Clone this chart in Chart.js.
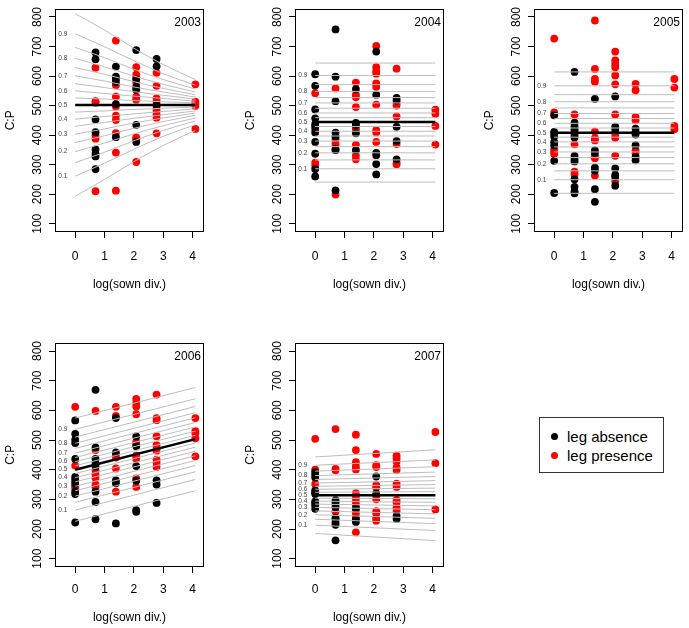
<!DOCTYPE html>
<html>
<head>
<meta charset="utf-8">
<script src="https://cdn.jsdelivr.net/npm/chart.js@4.4.1/dist/chart.umd.min.js"></script>
<style>
  body { margin: 0; width: 689px; height: 628px; overflow: hidden; position: relative; background: #fff;
         font-family: "Liberation Sans", Arial, sans-serif; }
  canvas { position: absolute; }
  #legend { position: absolute; left: 539px; top: 417px; width: 125px; height: 56px; box-sizing: border-box;
            border: 1px solid #333; padding-top: 9px; font-size: 15px; color: #000; }
  #legend .item { height: 19px; line-height: 19px; position: relative; padding-left: 27px; white-space: nowrap; }
  #legend .dot { position: absolute; left: 11px; top: 6px; width: 7px; height: 7px; border-radius: 50%; }
</style>
</head>
<body>
<canvas id="c2003" width="210" height="300" style="left:0px;top:0px"></canvas>
<canvas id="c2004" width="210" height="300" style="left:240px;top:0px"></canvas>
<canvas id="c2005" width="210" height="300" style="left:479px;top:0px"></canvas>
<canvas id="c2006" width="210" height="294" style="left:0px;top:334px"></canvas>
<canvas id="c2007" width="210" height="294" style="left:240px;top:334px"></canvas>
<div id="legend">
  <div class="item"><span class="dot" style="background:#000"></span>leg absence</div>
  <div class="item"><span class="dot" style="background:#ff0000"></span>leg presence</div>
</div>
<script>
// sown diversity levels, plotted on a log scale
const sownDiv = [1, 2, 4, 8, 16, 60];
const logDiv = sownDiv.map(d => Math.log(d));
const xTicks = [0, 1, 2, 3, 4];
const yTicks = [100, 200, 300, 400, 500, 600, 700, 800];
const qLabels = ['0.1', '0.2', '0.3', '0.4', '0.5', '0.6', '0.7', '0.8', '0.9'];
// fan lines are the quantiles 0.05, 0.10, ... 0.95

// C:P values per sown diversity level (1, 2, 4, 8, 16, 60)
const absent2003 = [
  [],
  [680, 657, 453, 410, 352, 337, 328, 285],
  [632, 598, 591, 580, 505, 393],
  [688, 589, 563, 554, 435, 377],
  [658, 633, 502],
  []
];
const present2003 = [
  [],
  [628, 515, 510, 398, 388, 210],
  [720, 569, 530, 497, 466, 451, 407, 341, 212],
  [630, 605, 596, 578, 530, 520, 392, 386, 309],
  [611, 567, 524, 514, 495, 484, 471, 459, 406],
  [572, 513, 506, 499, 421]
];
const absent2004 = [
  [606, 567, 487, 457, 437, 428, 409, 377, 337, 285, 260],
  [758, 598, 515, 408, 395, 353, 349, 213],
  [556, 441, 433, 406, 349],
  [683, 537, 340, 332, 302, 267],
  [526, 517, 428, 380, 318],
  []
];
const present2004 = [
  [542, 420, 307, 297],
  [558, 386, 373, 364, 199],
  [578, 537, 528, 495, 422, 414, 367, 331, 318],
  [702, 630, 616, 608, 575, 564, 503, 417, 409, 377],
  [625, 509, 500, 463, 370, 306, 301],
  [486, 472, 431, 368]
];
const absent2005 = [
  [467, 411, 405, 395, 376, 365, 313, 204],
  [614, 442, 430, 419, 398, 392, 330, 319, 311, 251, 225, 209, 203],
  [523, 348, 340, 290, 279, 217, 174],
  [531, 429, 418, 287, 265, 258, 229],
  [422, 411, 402, 366, 326, 315],
  []
];
const present2005 = [
  [727, 477, 352, 344, 336],
  [470, 415, 406, 369, 276, 267],
  [788, 624, 590, 581, 412, 390, 382, 330, 322, 263],
  [683, 653, 641, 630, 602, 572, 470, 402, 391, 330, 244],
  [573, 552, 461, 450, 349, 339],
  [590, 561, 431, 420]
];
const absent2006 = [
  [566, 521, 501, 490, 436, 376, 367, 352, 326, 318, 222],
  [669, 475, 436, 420, 410, 326, 291, 233],
  [574, 458, 364, 354, 219],
  [512, 479, 412, 363, 264, 258],
  [364, 350, 288],
  []
];
const present2006 = [
  [612, 414, 360, 344, 337],
  [598, 466, 398, 384, 372, 350, 341],
  [612, 581, 450, 441, 404, 326],
  [639, 625, 613, 587, 494, 486, 447, 437, 371, 342],
  [653, 574, 567, 513, 483, 473, 464, 434, 423, 409],
  [574, 530, 523, 506, 445]
];
const absent2007 = [
  [392, 384, 374, 330, 324, 318, 293, 287, 279, 268],
  [297, 290, 282, 273, 238, 233, 222, 214, 162],
  [270, 233, 224],
  [377, 320],
  [244, 234],
  []
];
const present2007 = [
  [504, 400, 352],
  [537, 403, 398, 259],
  [518, 466, 425, 411, 401, 321, 312, 301, 288, 277, 263, 252, 239, 189],
  [453, 415, 409, 348, 340, 312, 300, 260, 252, 236, 228],
  [447, 438, 428, 408, 399, 353, 342, 298, 289, 272, 261],
  [527, 422, 266]
];

// quantile fan: one row per x position, 19 quantiles per row
const fanX2003 = [0, 1, 2, 3, logDiv[5]];
const fan2003 = [
  [193, 261, 307, 344, 375, 403, 430, 454, 478, 502, 526, 550, 574, 601, 629, 660, 697, 743, 811],
  [250, 305, 342, 373, 398, 421, 443, 463, 482, 502, 522, 541, 561, 583, 606, 631, 662, 699, 756],
  [310, 352, 381, 404, 423, 441, 457, 472, 487, 502, 517, 532, 547, 563, 581, 600, 623, 652, 694],
  [365, 396, 416, 432, 446, 458, 469, 480, 491, 502, 513, 524, 535, 546, 558, 572, 588, 608, 639],
  [416, 435, 448, 458, 467, 475, 482, 489, 495, 502, 509, 515, 522, 529, 537, 546, 556, 569, 588]
];
const fanX2004 = [0, logDiv[5]];
const fan2004 = [
  [241, 286, 316, 340, 361, 380, 397, 413, 429, 444, 459, 475, 491, 509, 527, 548, 571, 602, 644],
  [241, 286, 316, 340, 361, 380, 397, 413, 429, 444, 459, 475, 491, 509, 527, 548, 571, 602, 644]
];
const fanX2005 = [0, logDiv[5]];
const fan2005 = [
  [203, 249, 279, 303, 324, 343, 360, 377, 393, 408, 424, 440, 456, 473, 492, 513, 537, 567, 614],
  [203, 249, 279, 303, 324, 343, 360, 377, 393, 408, 424, 440, 456, 473, 492, 513, 537, 567, 614]
];
const fanX2006 = [0, logDiv[5]];
const fan2006 = [
  [226, 264, 290, 311, 329, 344, 359, 373, 387, 400, 413, 427, 441, 456, 472, 489, 510, 536, 574],
  [329, 367, 393, 414, 431, 447, 462, 476, 490, 503, 516, 530, 544, 559, 575, 592, 613, 639, 677]
];
const fanX2007 = [0, logDiv[5]];
const fan2007 = [
  [185, 213, 233, 248, 261, 273, 284, 294, 304, 314, 324, 334, 344, 355, 367, 380, 395, 415, 443],
  [161, 195, 218, 236, 251, 265, 278, 290, 302, 314, 326, 338, 350, 363, 377, 392, 410, 433, 467]
];
// fitted mean line, at x = 0 and x = log(60)
const mean2003 = [502, 502];
const mean2004 = [444, 444];
const mean2005 = [408, 408];
const mean2006 = [400, 503];
const mean2007 = [314, 314];

const panels = [
  { id: 'c2003', year: '2003', absent: absent2003, present: present2003, fanX: fanX2003, fan: fan2003, mean: mean2003, row: 0 },
  { id: 'c2004', year: '2004', absent: absent2004, present: present2004, fanX: fanX2004, fan: fan2004, mean: mean2004, row: 0 },
  { id: 'c2005', year: '2005', absent: absent2005, present: present2005, fanX: fanX2005, fan: fan2005, mean: mean2005, row: 0 },
  { id: 'c2006', year: '2006', absent: absent2006, present: present2006, fanX: fanX2006, fan: fan2006, mean: mean2006, row: 1 },
  { id: 'c2007', year: '2007', absent: absent2007, present: present2007, fanX: fanX2007, fan: fan2007, mean: mean2007, row: 1 }
];
// per row: height of the x axis band, tick label padding, title padding
const rowAxis = [
  { xAxisH: 68, tickPad: 11, titlePad: 8 },
  { xAxisH: 61, tickPad: 9, titlePad: 3 }
];

Chart.defaults.font.family = '"Liberation Sans", Arial, sans-serif';
Chart.defaults.color = '#000';

function toPoints(cols) {
  let pts = [];
  cols.forEach((vals, i) => vals.forEach(v => pts.push({ x: logDiv[i], y: v })));
  return pts;
}

// year label, quantile labels and box
const panelDecor = {
  id: 'panelDecor',
  afterDatasetsDraw(chart, args, opts) {
    const { ctx, chartArea: a, scales: { x, y } } = chart;
    ctx.save();
    ctx.font = '6.5px "Liberation Sans", Arial';
    ctx.fillStyle = '#444';
    ctx.textAlign = 'center';
    ctx.textBaseline = 'middle';
    qLabels.forEach((t, k) => {
      ctx.fillText(t, x.getPixelForValue(-0.42), y.getPixelForValue(opts.fan0[2 * k + 1]));
    });
    ctx.font = '12px "Liberation Sans", Arial';
    ctx.fillStyle = '#000';
    ctx.textAlign = 'right';
    ctx.fillText(opts.year, a.right - 3, a.top + 14);
    ctx.strokeStyle = '#000';
    ctx.lineWidth = 1;
    ctx.strokeRect(Math.round(a.left) + 0.5, Math.round(a.top) + 0.5,
                   Math.round(a.width) - 1, Math.round(a.height) - 1);
    ctx.restore();
  }
};

panels.forEach(p => {
  const ax = rowAxis[p.row];
  let datasets = [];
  for (let j = 0; j < 19; j++) {
    datasets.push({
      data: p.fanX.map((x, i) => ({ x: x, y: p.fan[i][j] })),
      showLine: true, borderColor: '#bdbdbd', borderWidth: 1, pointRadius: 0,
      cubicInterpolationMode: 'monotone', order: 1
    });
  }
  datasets.push({
    data: [{ x: 0, y: p.mean[0] }, { x: logDiv[5], y: p.mean[1] }],
    showLine: true, borderColor: '#000', borderWidth: 2.5, pointRadius: 0, order: 0
  });
  datasets.push({
    label: 'leg absence', data: toPoints(p.absent),
    backgroundColor: '#000', borderWidth: 0, pointRadius: 3.9, order: 2
  });
  datasets.push({
    label: 'leg presence', data: toPoints(p.present),
    backgroundColor: '#ff0000', borderWidth: 0, pointRadius: 3.9, order: 2
  });

  new Chart(document.getElementById(p.id), {
    type: 'scatter',
    data: { datasets: datasets },
    options: {
      responsive: false,
      animation: false,
      devicePixelRatio: 1,
      layout: { padding: { top: 4, right: 6, left: 0, bottom: 0 } },
      plugins: {
        legend: { display: false },
        tooltip: { enabled: false },
        panelDecor: { year: p.year, fan0: p.fan[0] }
      },
      scales: {
        x: {
          type: 'linear', min: -0.688, max: 4.388,
          afterBuildTicks: s => { s.ticks = xTicks.map(v => ({ value: v })); },
          afterFit: s => { s.height = ax.xAxisH; },
          grid: { drawOnChartArea: false, drawTicks: true, tickLength: 6, color: '#000' },
          border: { display: false },
          ticks: { font: { size: 12 }, padding: ax.tickPad, maxRotation: 0, autoSkip: false },
          title: { display: true, text: 'log(sown div.)', font: { size: 12 }, padding: { top: 0, bottom: ax.titlePad } }
        },
        y: {
          type: 'linear', min: 72, max: 828,
          afterBuildTicks: s => { s.ticks = yTicks.map(v => ({ value: v })); },
          afterFit: s => { s.width = 55; },
          grid: { drawOnChartArea: false, drawTicks: true, tickLength: 6, color: '#000' },
          border: { display: false },
          ticks: { font: { size: 12 }, padding: 1.5, minRotation: 90, maxRotation: 90, crossAlign: 'center', autoSkip: false },
          title: { display: true, text: 'C:P', font: { size: 12 }, padding: { top: 3, bottom: 0 } }
        }
      }
    },
    plugins: [panelDecor]
  });
});
</script>
</body>
</html>
